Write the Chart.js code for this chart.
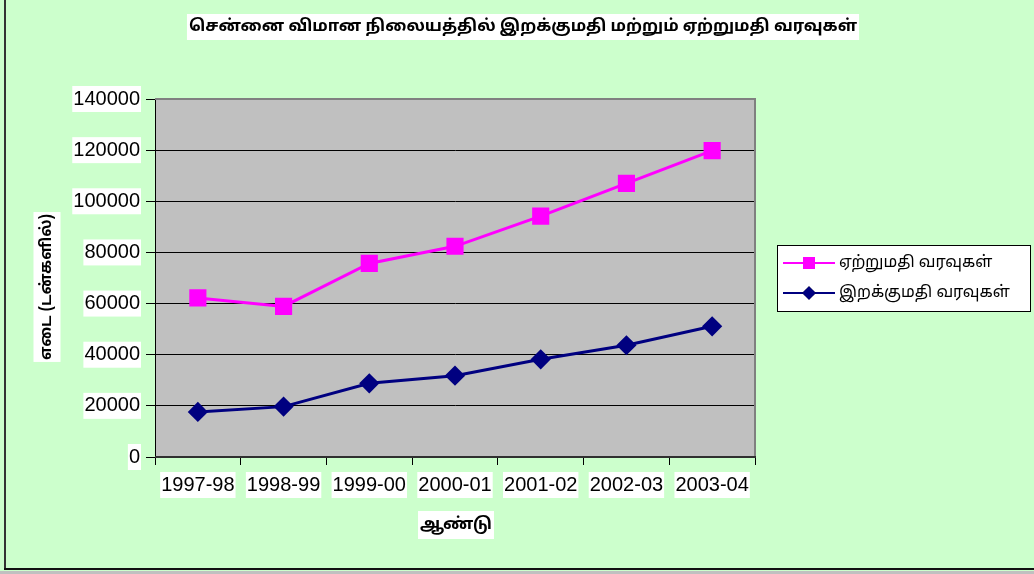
<!DOCTYPE html>
<html>
<head>
<meta charset="utf-8">
<script src="https://cdn.jsdelivr.net/npm/chart.js@4.4.1/dist/chart.umd.min.js"></script>
<style>
  html, body { margin: 0; padding: 0; background: #ccffcc; }
  canvas { display: block; }
</style>
</head>
<body>
<canvas id="chart" width="1034" height="574"></canvas>
<script>
// தரவு
const years = ["1997-98", "1998-99", "1999-00", "2000-01", "2001-02", "2002-03", "2003-04"];
const exportValues = [62200, 58900, 75700, 82400, 94200, 107000, 119800];
const importValues = [17600, 19700, 28800, 31800, 38200, 43700, 51100];
const yTicks = [0, 20000, 40000, 60000, 80000, 100000, 120000, 140000];

const titleText = "சென்னை விமான நிலையத்தில் இறக்குமதி மற்றும் ஏற்றுமதி வரவுகள்";
const yTitle = "எடை (டன்களில்)";
const xTitle = "ஆண்டு";
const exportLabel = "ஏற்றுமதி வரவுகள்";
const importLabel = "இறக்குமதி வரவுகள்";

const tamilFont = '"Noto Sans Tamil", "Lohit Tamil", "Noto Sans", sans-serif';

function boxedText(ctx, text, x, y, font, rotate, h) {
  ctx.save();
  ctx.font = font;
  ctx.translate(x, y);
  if (rotate) ctx.rotate(-Math.PI / 2);
  const w = ctx.measureText(text).width;
  ctx.fillStyle = "#ffffff";
  ctx.fillRect(-w / 2 - 2, -h / 2, w + 4, h);
  ctx.fillStyle = "#000000";
  ctx.textAlign = "center";
  ctx.textBaseline = "middle";
  ctx.fillText(text, 0, 1);
  ctx.restore();
}

const decor = {
  id: "decor",
  beforeDraw(chart) {
    const { ctx, chartArea: a } = chart;
    ctx.save();
    ctx.fillStyle = "#ccffcc";
    ctx.fillRect(0, 0, chart.width, chart.height);
    ctx.fillStyle = "#c0c0c0";
    ctx.fillRect(a.left, a.top, a.right - a.left, a.bottom - a.top);
    ctx.restore();
  },
  beforeDatasetsDraw(chart) {
    const { ctx, chartArea: a } = chart;
    ctx.save();
    ctx.strokeStyle = "#808080";
    ctx.lineWidth = 2;
    ctx.beginPath();
    ctx.moveTo(a.left, a.top);
    ctx.lineTo(a.right, a.top);
    ctx.lineTo(a.right, a.bottom);
    ctx.stroke();
    ctx.strokeStyle = "#303030";
    ctx.beginPath();
    ctx.moveTo(a.left, a.bottom);
    ctx.lineTo(a.right + 1, a.bottom);
    ctx.stroke();
    ctx.restore();
  },
  afterDraw(chart) {
    const { ctx } = chart;
    // outer frame: left and bottom only
    ctx.save();
    ctx.fillStyle = "#333333";
    ctx.fillRect(4, 0, 2, 570);
    ctx.fillStyle = "#111111";
    ctx.fillRect(4, 568, chart.width - 4, 2);
    ctx.fillStyle = "#c0c0c0";
    ctx.fillRect(0, 571, chart.width, 3);
    ctx.restore();

    boxedText(ctx, titleText, 523, 27, "bold 16.5px " + tamilFont, false, 26);
    boxedText(ctx, yTitle, 47, 287, "bold 15.5px " + tamilFont, true, 27);
    boxedText(ctx, xTitle, 456, 525, "bold 16.5px " + tamilFont, false, 28);

    // legend
    const lx = 777, ly = 245, lw = 253, lh = 66;
    ctx.save();
    ctx.fillStyle = "#ffffff";
    ctx.fillRect(lx, ly, lw, lh);
    ctx.strokeStyle = "#000000";
    ctx.lineWidth = 1;
    ctx.strokeRect(lx + 0.5, ly + 0.5, lw, lh);
    chart.data.datasets.forEach((ds, i) => {
      const cy = ly + 18 + i * 30;
      ctx.strokeStyle = ds.borderColor;
      ctx.lineWidth = 2;
      ctx.beginPath();
      ctx.moveTo(lx + 6, cy);
      ctx.lineTo(lx + 58, cy);
      ctx.stroke();
      Chart.helpers.drawPoint(ctx, {
        pointStyle: ds.pointStyle, radius: ds.pointRadius * 0.85, borderWidth: 0, rotation: 0
      }, lx + 32, cy);
      ctx.fillStyle = ds.pointBackgroundColor;
      ctx.fill();
      ctx.fillStyle = "#000000";
      ctx.font = "16px " + tamilFont;
      ctx.textAlign = "left";
      ctx.textBaseline = "middle";
      ctx.fillText(ds.label, lx + 62, cy + 1);
    });
    ctx.restore();
  }
};

new Chart(document.getElementById("chart"), {
  type: "line",
  data: {
    labels: years,
    datasets: [
      {
        label: exportLabel,
        data: exportValues,
        borderColor: "#ff00ff",
        backgroundColor: "#ff00ff",
        pointBackgroundColor: "#ff00ff",
        pointBorderColor: "#ff00ff",
        pointStyle: "rect",
        pointRadius: 10,
        borderWidth: 3,
        tension: 0
      },
      {
        label: importLabel,
        data: importValues,
        borderColor: "#000080",
        backgroundColor: "#000080",
        pointBackgroundColor: "#000080",
        pointBorderColor: "#000080",
        pointStyle: "rectRot",
        pointRadius: 8,
        borderWidth: 3,
        tension: 0
      }
    ]
  },
  plugins: [decor],
  options: {
    responsive: false,
    animation: false,
    layout: { padding: { top: 99, right: 279, bottom: 0, left: 0 } },
    plugins: {
      legend: { display: false },
      title: { display: false },
      tooltip: { enabled: false }
    },
    scales: {
      x: {
        offset: true,
        afterFit(scale) { scale.height = 117; },
        grid: { offset: true, drawOnChartArea: false, color: "#000000", tickLength: 8 },
        border: { display: true, color: "#000000" },
        ticks: {
          color: "#000000",
          font: { family: "Liberation Sans, Arial, sans-serif", size: 20 },
          padding: 8,
          maxRotation: 0,
          autoSkip: false,
          showLabelBackdrop: true,
          backdropColor: "#ffffff",
          backdropPadding: { top: 1, bottom: 1, left: 1, right: 1 }
        }
      },
      y: {
        min: 0,
        max: 140000,
        afterFit(scale) { scale.width = 155; },
        afterBuildTicks(scale) { scale.ticks = yTicks.map(v => ({ value: v })); },
        grid: { color: "#000000", tickLength: 9 },
        border: { display: true, color: "#000000" },
        ticks: {
          color: "#000000",
          font: { family: "Liberation Sans, Arial, sans-serif", size: 20 },
          padding: 6,
          callback: value => String(value),
          showLabelBackdrop: true,
          backdropColor: "#ffffff",
          backdropPadding: { top: 1, bottom: 1, left: 1, right: 1 }
        }
      }
    }
  }
});
</script>
</body>
</html>
